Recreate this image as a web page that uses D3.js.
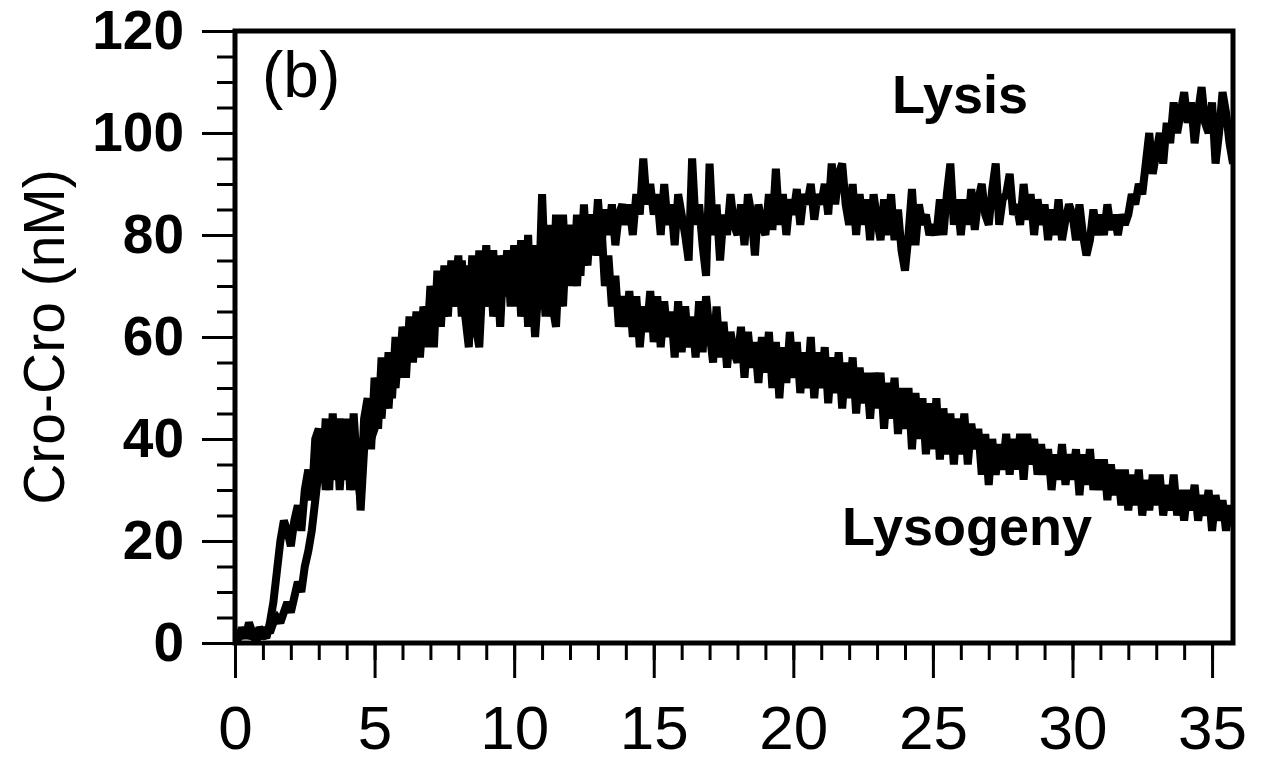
<!DOCTYPE html>
<html><head><meta charset="utf-8">
<script src="https://cdn.jsdelivr.net/npm/d3@7/dist/d3.min.js"></script>
<style>
html,body{margin:0;padding:0;background:#fff;}
svg{display:block;}
</style></head>
<body>
<svg id="chart" width="1279" height="764"></svg>
<script>
// sample spacing on the time axis
const timeStep = 0.125;
// Lysis trajectory (Cro-Cro, nM), 8 samples per time unit
const lysis = [
  0, 1, 3, 1, 4, 2, 1, 3,
  2, 1, 4, 8, 14, 20, 24, 22,
  19, 24, 27, 22, 30, 34, 28, 40,
  42, 32, 44, 30, 45, 34, 44, 32,
  44, 30, 45, 34, 28, 44, 48, 38,
  52, 42, 56, 46, 57, 48, 60, 52,
  62, 52, 64, 55, 65, 56, 66, 58,
  70, 58, 73, 62, 74, 64, 75, 66,
  76, 64, 74, 62, 76, 60, 77, 66,
  78, 66, 77, 64, 76, 68, 77, 66,
  78, 66, 79, 64, 80, 62, 78, 66,
  88, 70, 82, 64, 84, 66, 84, 70,
  82, 70, 84, 72, 86, 74, 84, 76,
  87, 78, 85, 80, 86, 78, 84, 86,
  82, 86, 80, 88, 84, 95, 86, 90,
  84, 88, 80, 90, 82, 86, 78, 88,
  84, 80, 75, 95, 82, 86, 78, 72,
  94, 80, 86, 75, 84, 80, 88, 82,
  80, 86, 78, 88, 84, 76, 86, 82,
  80, 88, 81, 93, 82, 88, 80, 87,
  84, 89, 82, 88, 86, 90, 83, 88,
  86, 90, 84, 94, 86, 92, 94, 86,
  82, 90, 80, 88, 82, 87, 79, 88,
  83, 79, 87, 80, 88, 79, 85, 77,
  73, 80, 89, 78, 86, 82, 84, 80,
  82, 80, 87, 80, 88, 94, 82, 87,
  80, 87, 82, 89, 81, 87, 90, 84,
  82, 89, 94, 82, 87, 88, 92, 84,
  86, 82, 90, 83, 88, 80, 87, 82,
  86, 79, 85, 80, 87, 79, 83, 86,
  84, 79, 86, 80, 76, 79, 85, 80,
  84, 80, 86, 81, 84, 80, 84, 82,
  84, 88, 86, 90, 88, 94, 100, 92,
  96, 100, 94, 102, 98, 106, 100, 104,
  108, 102, 106, 98, 104, 109, 102, 100,
  106, 94, 100, 108, 104, 98, 94, 96
];
// Lysogeny trajectory (Cro-Cro, nM), 8 samples per time unit
const lysogeny = [
  0, 2, 1, 3, 1, 2, 0, 2,
  1, 3, 2, 4, 5, 4, 6, 8,
  6, 9, 12, 10, 15, 18, 22, 28,
  34, 42, 30, 40, 32, 43, 30, 40,
  32, 42, 30, 40, 26, 38, 44, 40,
  42, 52, 44, 54, 46, 56, 50, 58,
  54, 62, 56, 63, 58, 64, 60, 66,
  60, 70, 62, 72, 64, 73, 66, 74,
  66, 75, 64, 58, 74, 62, 58, 72,
  66, 76, 64, 74, 62, 76, 68, 74,
  68, 78, 64, 76, 62, 72, 60, 70,
  74, 64, 78, 66, 62, 76, 66, 80,
  72, 80, 70, 82, 74, 80, 84, 80,
  76, 82, 70, 76, 66, 72, 62, 68,
  62, 69, 60, 68, 58, 66, 61, 69,
  59, 68, 58, 67, 60, 65, 56, 67,
  57, 66, 58, 64, 56, 67, 57, 68,
  61, 55, 66, 56, 63, 54, 61, 57,
  55, 62, 52, 61, 54, 59, 51, 60,
  53, 61, 50, 59, 48, 58, 51, 61,
  52, 59, 49, 57, 50, 60, 48, 57,
  50, 58, 47, 56, 49, 57, 46, 55,
  48, 56, 45, 54, 47, 53, 44, 53,
  46, 53, 42, 51, 44, 52, 41, 50,
  42, 50, 38, 49, 40, 48, 37, 47,
  38, 48, 36, 46, 37, 45, 35, 44,
  37, 45, 35, 43, 38, 42, 33, 41,
  31, 40, 33, 39, 34, 41, 33, 40,
  34, 41, 32, 41, 35, 40, 33, 39,
  33, 38, 30, 37, 32, 39, 31, 37,
  32, 38, 29, 37, 31, 38, 30, 36,
  30, 36, 28, 35, 29, 34, 27, 34,
  26, 33, 27, 34, 25, 32, 26, 33,
  27, 33, 25, 31, 26, 33, 25, 30,
  24, 30, 26, 31, 24, 29, 25, 30,
  22, 29, 24, 28, 22, 27, 23, 25
];
const xMajorTicks = [0, 5, 10, 15, 20, 25, 30, 35];
const yMajorTicks = [0, 20, 40, 60, 80, 100, 120];
const yTitle = "Cro-Cro (nM)";
const panelLabel = "(b)";
const seriesLabels = ["Lysis", "Lysogeny"];

const svg = d3.select("#chart");
const mLeft = 235, mRight = 1233, mTop = 31, mBottom = 643;
const x = d3.scaleLinear().domain([0, 35.75]).range([mLeft, mRight]);
const y = d3.scaleLinear().domain([0, 120]).range([mBottom, mTop]);
const font = "'Liberation Sans', Arial, Helvetica, sans-serif";

svg.append("defs").append("clipPath").attr("id","clip")
  .append("rect").attr("x", mLeft).attr("y", mTop).attr("width", mRight-mLeft).attr("height", mBottom-mTop);

const yMinor = d3.range(0, 121, 5);
const yAxisMinor = svg.append("g").attr("transform", `translate(${mLeft},0)`)
  .call(d3.axisLeft(y).tickValues(yMinor).tickSize(18).tickFormat(""));
const yAxisMajor = svg.append("g").attr("transform", `translate(${mLeft},0)`)
  .call(d3.axisLeft(y).tickValues(yMajorTicks).tickSize(33).tickPadding(18).tickFormat(d3.format("d")));
const xMinor = d3.range(0, 36, 1);
const xAxisMinor = svg.append("g").attr("transform", `translate(0,${mBottom})`)
  .call(d3.axisBottom(x).tickValues(xMinor).tickSize(17).tickFormat(""));
const xAxisMajor = svg.append("g").attr("transform", `translate(0,${mBottom})`)
  .call(d3.axisBottom(x).tickValues(xMajorTicks).tickSize(35).tickPadding(27).tickFormat(d3.format("d")));

[yAxisMinor, yAxisMajor, xAxisMinor, xAxisMajor].forEach(g => {
  g.select(".domain").remove();
  g.selectAll(".tick line").attr("stroke", "#000").attr("stroke-width", 3);
});
yAxisMajor.selectAll(".tick text").attr("font-family", font).attr("font-size", 55)
  .attr("font-weight", "bold").attr("fill", "#000");
xAxisMajor.selectAll(".tick text").attr("font-family", font).attr("font-size", 62)
  .attr("fill", "#000");

const line = d3.line().x((d, i) => x(i * timeStep)).y(d => y(d)).curve(d3.curveLinear);
const plot = svg.append("g").attr("clip-path", "url(#clip)");
[lysogeny, lysis].forEach(series => {
  plot.append("path").datum(series).attr("d", line)
    .attr("fill", "none").attr("stroke", "#000").attr("stroke-width", 8)
    .attr("stroke-linejoin", "miter").attr("stroke-miterlimit", 2);
});

svg.append("rect").attr("x", mLeft).attr("y", mTop).attr("width", mRight-mLeft).attr("height", mBottom-mTop)
  .attr("fill", "none").attr("stroke", "#000").attr("stroke-width", 5);

svg.append("text").attr("transform", "translate(64,337) rotate(-90)")
  .attr("text-anchor", "middle").attr("font-family", font).attr("font-size", 57)
  .attr("fill", "#000").text(yTitle);
svg.append("text").attr("x", 262).attr("y", 97).attr("font-family", font).attr("font-size", 64)
  .attr("fill", "#000").text(panelLabel);
svg.append("text").attr("x", 892).attr("y", 113).attr("font-family", font).attr("font-size", 54)
  .attr("font-weight", "bold").attr("fill", "#000").text(seriesLabels[0]);
svg.append("text").attr("x", 842).attr("y", 545).attr("font-family", font).attr("font-size", 54)
  .attr("font-weight", "bold").attr("fill", "#000").text(seriesLabels[1]);
</script>
</body></html>
